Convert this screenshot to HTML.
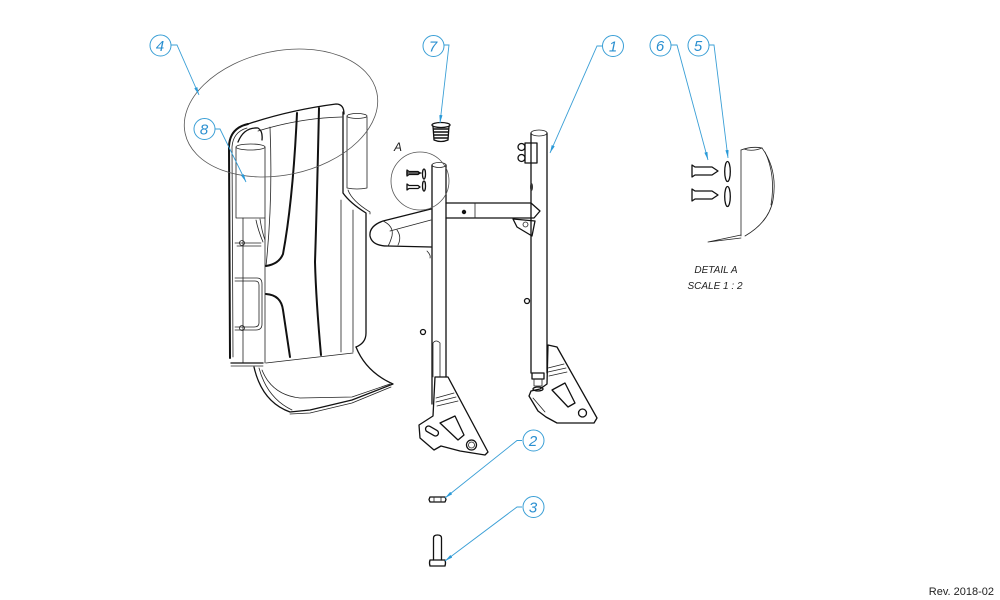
<!DOCTYPE html>
<html>
<head>
<meta charset="utf-8">
<style>
html,body{margin:0;padding:0;background:#fff;}
svg{display:block;}
.o{fill:none;stroke:#111;stroke-width:1.3;stroke-linejoin:round;stroke-linecap:round;}
.t{fill:none;stroke:#222;stroke-width:0.8;stroke-linejoin:round;stroke-linecap:round;}
.k{fill:none;stroke:#111;stroke-width:2;stroke-linejoin:round;stroke-linecap:round;}
.g{fill:none;stroke:#555;stroke-width:0.8;}
.ld{fill:none;stroke:#3a9fd6;stroke-width:0.9;}
.bc{fill:#fff;stroke:#3a9fd6;stroke-width:1;}
.bt{font-family:"Liberation Sans",sans-serif;font-style:italic;font-size:15px;fill:#2a8fd0;text-anchor:middle;}
.lb{font-family:"Liberation Sans",sans-serif;font-style:italic;font-size:10px;fill:#222;text-anchor:middle;}
</style>
</head>
<body>
<svg width="1000" height="600" viewBox="0 0 1000 600" xmlns="http://www.w3.org/2000/svg">
<defs>
<marker id="ar" viewBox="0 0 10 4" refX="10" refY="2" markerWidth="8" markerHeight="3.2" orient="auto" markerUnits="userSpaceOnUse">
<path d="M0,0 L10,2 L0,4 Z" fill="#2a9ad8"/>
</marker>
</defs>

<!-- ============ SHELL (part 4) ============ -->
<!-- left back edge -->
<path class="k" d="M230,358 L229,146 Q230,128 248,124"/>
<path class="t" d="M233,357 L232,147 Q233,132 247,128"/>
<!-- top ridge -->
<path class="o" d="M248,124 Q290,110 336,104 Q344,104 344,114"/>
<path class="t" d="M258,131 Q300,118 342,117"/>
<path class="o" d="M238,142 Q244,127 258,128 Q263,131 262,140"/>
<!-- right edge -->
<path class="o" d="M343,112 L343,193 Q350,203 366,213 L366,333 Q366,343 356,347"/>
<path class="t" d="M348,190 Q352,201 370,212 L370,214"/>
<!-- right top tab -->
<path class="t" d="M347,116 L347,188 Q357,190 367,188 L367,117"/>
<ellipse class="t" cx="357" cy="116" rx="10" ry="2.5"/>
<!-- hinge cylinder (part 8) -->
<path class="t" d="M236,147 L236,218 L265,218 L265,147"/>
<ellipse class="t" cx="250.5" cy="147" rx="14.5" ry="3"/>
<!-- inner vertical lines -->
<path class="t" d="M265,218 L265,363"/>
<path class="t" d="M243,218 L243,363"/>
<path class="t" d="M256,220 Q258,230 263,242"/>
<path class="t" d="M260,219 Q262,232 265,240"/>
<!-- body curves -->
<path class="t" d="M270,127 Q273,200 266,266"/>
<path class="k" d="M297,113 Q293,200 283,254 Q279,264 266,266"/>
<path class="k" d="M266,294 Q281,295 283,310 L290,357"/>
<path class="k" d="M319,108 Q317,200 315,262 Q316,300 321,355"/>
<path class="t" d="M341,200 L341,352"/>
<path class="t" d="M353,210 L353,352"/>
<!-- side handle brackets -->
<path class="t" d="M235,243 L261,243"/>
<path class="t" d="M237,246 L261,246"/>
<circle class="t" cx="242" cy="243" r="2.5"/>
<path class="t" d="M235,278 L257,278 Q262,278 262,284 L262,324 Q262,330 256,330 L235,330"/>
<path class="t" d="M235,281 L255,281 Q259,281 259,285 L259,323 Q259,327 254,327 L235,327"/>
<circle class="t" cx="242" cy="328" r="2.5"/>
<!-- bottom left -->
<path class="o" d="M231,363 L263,363"/>
<path class="t" d="M231,366 L263,366"/>
<!-- footplate -->
<path class="t" d="M266,363 L353,353"/>
<path class="o" d="M356,347 Q366,372 393,384 L352,400 L310,410 L290,412 Q262,402 254,367"/>
<path class="t" d="M391,387 L352,403 L310,413 L290,414"/>
<path class="t" d="M262,370 Q272,395 300,398 L352,397 L390,384"/>
<path class="t" d="M259,368 Q267,398 292,410"/>

<!-- detail ellipse for part 4 -->
<ellipse class="g" cx="281" cy="113" rx="98" ry="62" transform="rotate(-12 281 113)"/>

<!-- ============ FRAME (part 1) ============ -->
<!-- left loop handle -->
<path class="o" d="M431,209 L383,221 Q369,226 370,236 Q372,246 388,246 L431,247"/>
<path class="t" d="M390,231 L431,220"/>
<path class="t" d="M383,221 Q394,226 392,236 Q390,243 388,246"/>
<path class="t" d="M397,230 Q402,237 398,245"/>
<path class="t" d="M427,251 Q431,255 430,258"/>
<!-- left column -->
<path class="o" d="M432,165 L432,404"/>
<path class="o" d="M446,165 L446,377"/>
<ellipse class="t" cx="439" cy="165" rx="7" ry="2.5"/>
<!-- crossbar -->
<path class="o" d="M446,203 L531,203 L540,211 L534,218 L446,218"/>
<path class="t" d="M475,203 L475,218"/>
<circle cx="464" cy="212" r="2.2" fill="#111"/>
<path class="o" d="M513,219 L517,227 L532,236 L535,221 Z"/>
<circle class="t" cx="525.5" cy="224.5" r="2.5"/>
<!-- right column -->
<path class="o" d="M531,133 L531,373"/>
<path class="o" d="M547,133 L547,373"/>
<ellipse class="t" cx="539" cy="133" rx="8" ry="3"/>
<path class="o" d="M525,143 L537,143 L537,163 L525,163 Z"/>
<circle class="o" cx="521.5" cy="147" r="3.5"/>
<circle class="o" cx="521.5" cy="158" r="3.5"/>
<ellipse cx="531.5" cy="187" rx="1.5" ry="4" fill="#333"/>
<!-- knobs -->
<circle class="o" cx="527" cy="301" r="2.5"/>
<circle class="o" cx="423" cy="332" r="2.5"/>
<!-- left slot -->
<path class="t" d="M433,377 L433,343 Q436,339 440,343 L440,377"/>
<!-- left bracket -->
<path class="o" d="M435,377 L448,377 L488,452 L485,455 L460,451 L441,446 L434,450 L420,438 L419,425 L433,416 Z"/>
<path class="t" d="M436,398 L454,393"/>
<path class="t" d="M436,402 L456,397"/>
<path class="t" d="M437,406 L458,401"/>
<path class="o" d="M440,423 L455,416 L464,435 L458,440 Z"/>
<rect class="o" x="425" y="428" width="14" height="6" rx="3" transform="rotate(30 432 431)"/>
<circle class="o" cx="471.5" cy="445" r="5"/>
<circle class="t" cx="471.5" cy="445" r="3"/>
<!-- right column bottom -->
<path class="o" d="M532,373 L544,373 L544,379 L532,379 Z"/>
<path class="t" d="M534,379 L534,386 L542,386 L542,379"/>
<ellipse class="o" cx="538" cy="389" rx="5" ry="2"/>
<path class="o" d="M548,345 L557,347 L597,418 L594,423 L557,423 L546,417 L538,411 L529,396 L531,391 L540,389 L547,384 Z"/>
<path class="t" d="M548,368 L564,364"/>
<path class="t" d="M548,372 L566,368"/>
<path class="t" d="M549,376 L567,372"/>
<path class="o" d="M552,390 L565,383 L575,403 L568,407 Z"/>
<path class="t" d="M533,398 L545,412"/>
<circle class="o" cx="582.5" cy="413" r="4"/>

<!-- part 7 cap -->
<ellipse class="o" cx="441" cy="125" rx="9" ry="2.5"/>
<path class="o" d="M433,126 L434,140 Q441,143 448,140 L449,126"/>
<path stroke="#111" stroke-width="1.6" d="M433,129 L449,129 M433,132 L449,132 M434,135 L448,135 M434,138 L448,138"/>

<!-- Detail A circle on main view -->
<circle class="g" cx="420" cy="181" r="29"/>
<path class="o" d="M407,171 L407,175 M407,173 L418,173 L421,173"/>
<path class="o" d="M407,170 L407,176 L409,174.5 L418,174.5 L420,173 L418,171.5 L409,171.5 Z"/>
<path class="o" d="M407,184 L407,190 L409,188.5 L418,188.5 L420,187 L418,185.5 L409,185.5 Z"/>
<ellipse class="o" cx="424" cy="174" rx="1.5" ry="5"/>
<ellipse class="o" cx="424" cy="186" rx="1.5" ry="5"/>

<!-- part 2 nut -->
<path class="o" d="M430,497 L445,497 L446,499.5 L445,502 L430,502 L429,499.5 Z"/>
<path class="t" d="M434,497 L434,502 M441,497 L441,502"/>
<!-- part 3 bolt -->
<path class="o" d="M433.5,560 L433.5,538 Q433.5,535 437.5,535 Q441.5,535 441.5,538 L441.5,560"/>
<path class="o" d="M430,560 L445,560 Q446,563 445,566 L430,566 Q429,563 430,560 Z"/>

<!-- ============ DETAIL A VIEW ============ -->
<path class="o" d="M692,165 L692,177 L695,175 L712,175 L718,171 L712,167 L695,167 Z"/>
<path class="o" d="M692,189 L692,201 L695,199 L712,199 L718,195 L712,191 L695,191 Z"/>
<ellipse class="o" cx="727.5" cy="171.5" rx="2.8" ry="10"/>
<ellipse class="o" cx="727.5" cy="196.5" rx="2.8" ry="10"/>
<path class="t" d="M741,150 L741,236"/>
<path class="t" d="M741,150 Q752,146 762,148"/>
<path class="t" d="M744,149 Q752,152 762,148"/>
<path class="t" d="M762,148 Q778,170 773,200 Q769,222 745,236"/>
<path class="t" d="M765,152 Q776,175 771,205"/>
<path class="t" d="M741,235 L708,242 L741,238"/>
<text class="lb" x="716" y="273">DETAIL A</text>
<text class="lb" x="715" y="289">SCALE 1 : 2</text>
<text x="398" y="151" font-family="Liberation Sans,sans-serif" font-style="italic" font-size="12" fill="#222" text-anchor="middle">A</text>

<!-- ============ BALLOONS / LEADERS ============ -->
<path class="ld" d="M171,45 L177,45 L199,95" marker-end="url(#ar)"/>
<circle class="bc" cx="160.5" cy="45.5" r="10.5"/>
<text class="bt" x="160" y="51">4</text>

<path class="ld" d="M215,129 L220,129 L246,182" marker-end="url(#ar)"/>
<circle class="bc" cx="204.5" cy="129" r="10.5"/>
<text class="bt" x="204" y="134.5">8</text>

<path class="ld" d="M444,45 L449,45 L440,123" marker-end="url(#ar)"/>
<circle class="bc" cx="433.5" cy="46" r="10.5"/>
<text class="bt" x="433" y="51.5">7</text>

<path class="ld" d="M602,46 L597,46 L550,153" marker-end="url(#ar)"/>
<circle class="bc" cx="613" cy="46" r="10.5"/>
<text class="bt" x="613" y="51.5">1</text>

<path class="ld" d="M671,45 L677,45 L708,160" marker-end="url(#ar)"/>
<circle class="bc" cx="660.5" cy="45.5" r="10.5"/>
<text class="bt" x="660" y="51">6</text>

<path class="ld" d="M709,45 L714,45 L728,158" marker-end="url(#ar)"/>
<circle class="bc" cx="698.5" cy="45.5" r="10.5"/>
<text class="bt" x="698" y="51">5</text>

<path class="ld" d="M522,440.5 L517,440.5 L445,498" marker-end="url(#ar)"/>
<circle class="bc" cx="533.5" cy="440.5" r="10.5"/>
<text class="bt" x="533" y="446">2</text>

<path class="ld" d="M522,507 L517,507 L445,561" marker-end="url(#ar)"/>
<circle class="bc" cx="533.5" cy="507" r="10.5"/>
<text class="bt" x="533" y="512.5">3</text>

<text x="994" y="595" font-family="Liberation Sans,sans-serif" font-size="11" fill="#222" text-anchor="end">Rev. 2018-02</text>
</svg>
</body>
</html>
